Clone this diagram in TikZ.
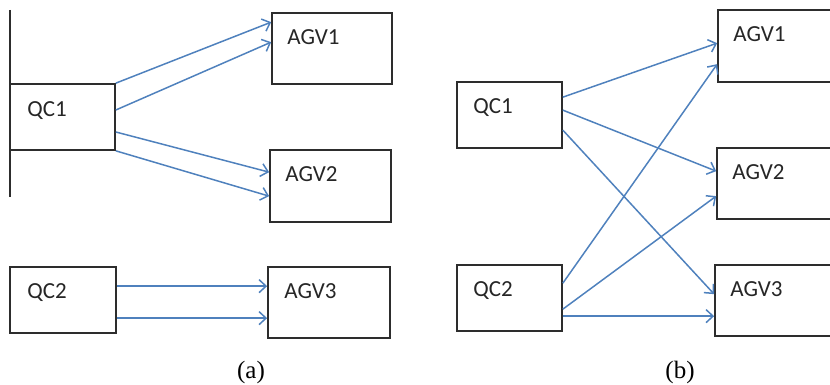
\documentclass[tikz,border=0pt]{standalone}
\usepackage{fontspec}
\setmainfont{Carlito}
\newfontfamily\capfont{Liberation Serif}
\usetikzlibrary{arrows.meta}
\definecolor{arrowblue}{RGB}{79,129,189}
\definecolor{boxgray}{RGB}{45,45,45}
\tikzset{
  box/.style={draw=boxgray, line width=1.7pt, rectangle, inner sep=0pt},
  boxtext/.style={anchor=base west, inner sep=0pt, font=\fontsize{23}{26}\selectfont, text=black!85},
  link/.style={draw=arrowblue, line width=1.5pt, -{Straight Barb[length=7pt,width=13pt,line width=1.5pt]}},
  caption/.style={anchor=base, inner sep=0pt, font=\capfont\fontsize{25}{28}\selectfont}
}
\begin{document}
\begin{tikzpicture}[x=1pt,y=-1pt]
\useasboundingbox (0,0) rectangle (830,385);
% panel (a)
\coordinate (vtop) at (10,10);
\coordinate (vbot) at (10,197);
\draw[boxgray, line width=1.2pt] (vtop) -- (vbot);
\node[box, minimum width=105pt, minimum height=66pt] (qc1a) at (62.5,117) {};
\node[box, minimum width=120pt, minimum height=71pt] (agv1a) at (332,48.5) {};
\node[box, minimum width=121pt, minimum height=72pt] (agv2a) at (330.5,186) {};
\node[box, minimum width=106pt, minimum height=66pt] (qc2a) at (63,300) {};
\node[box, minimum width=122pt, minimum height=71pt] (agv3a) at (329,302.5) {};
\node[boxtext] (tqc1a) at ([xshift=18pt,yshift=-33pt]qc1a.north west) {QC1};
\node[boxtext] (tagv1a) at ([xshift=16pt,yshift=-32pt]agv1a.north west) {AGV1};
\node[boxtext] (tagv2a) at ([xshift=16pt,yshift=-32pt]agv2a.north west) {AGV2};
\node[boxtext] (tqc2a) at ([xshift=18pt,yshift=-32pt]qc2a.north west) {QC2};
\node[boxtext] (tagv3a) at ([xshift=17pt,yshift=-32pt]agv3a.north west) {AGV3};
\draw[link] (qc1a.north east) -- ([yshift=-10pt]agv1a.north west);
\draw[link] ([yshift=7pt]qc1a.east) -- ([yshift=-30pt]agv1a.north west);
\draw[link] ([yshift=-15pt]qc1a.east) -- ([yshift=-23pt]agv2a.north west);
\draw[link] (qc1a.south east) -- ([yshift=-47pt]agv2a.north west);
\draw[link] ([yshift=-20pt]qc2a.north east) -- ([yshift=-20pt]agv3a.north west);
\draw[link] ([yshift=-52pt]qc2a.north east) -- ([yshift=-52pt]agv3a.north west);
\node[caption] (capa) at (251,378) {(a)};
% panel (b)
\node[box, minimum width=105pt, minimum height=66pt] (qc1b) at (509.5,115) {};
\node[box, minimum width=118pt, minimum height=72pt] (agv1b) at (777,46) {};
\node[box, minimum width=119pt, minimum height=71pt] (agv2b) at (776.5,183.5) {};
\node[box, minimum width=105pt, minimum height=66pt] (qc2b) at (509.5,298) {};
\node[box, minimum width=121pt, minimum height=71pt] (agv3b) at (775.5,300.5) {};
\node[boxtext] (tqc1b) at ([xshift=17pt,yshift=-32pt]qc1b.north west) {QC1};
\node[boxtext] (tagv1b) at ([xshift=16pt,yshift=-32pt]agv1b.north west) {AGV1};
\node[boxtext] (tagv2b) at ([xshift=16pt,yshift=-32pt]agv2b.north west) {AGV2};
\node[boxtext] (tqc2b) at ([xshift=17pt,yshift=-32pt]qc2b.north west) {QC2};
\node[boxtext] (tagv3b) at ([xshift=16pt,yshift=-32pt]agv3b.north west) {AGV3};
\draw[link] ([yshift=-16pt]qc1b.north east) -- ([yshift=-34pt]agv1b.north west);
\draw[link] ([yshift=-29pt]qc1b.north east) -- ([yshift=-24pt]agv2b.north west);
\draw[link] ([yshift=-49pt]qc1b.north east) -- ([yshift=-30pt]agv3b.north west);
\draw[link] ([yshift=-19pt]qc2b.north east) -- ([yshift=-55pt]agv1b.north west);
\draw[link] ([yshift=-45pt]qc2b.north east) -- ([yshift=-49pt]agv2b.north west);
\draw[link] ([yshift=-52pt]qc2b.north east) -- ([yshift=-52pt]agv3b.north west);
\node[caption] (capb) at (680,378) {(b)};
\end{tikzpicture}
\end{document}
